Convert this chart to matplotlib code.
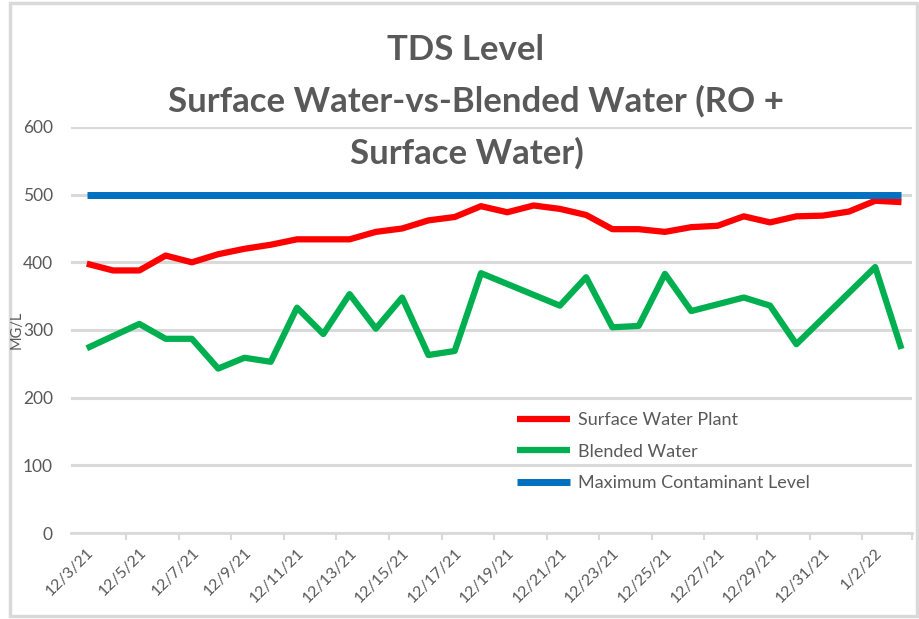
import matplotlib
matplotlib.use("Agg")
import matplotlib.pyplot as plt
import pandas as pd
from matplotlib.patches import Rectangle

plt.rcParams['font.family'] = ['Lato', 'DejaVu Sans']

# ---- data ----
surface_dates = ["2021-12-03", "2021-12-04", "2021-12-05", "2021-12-06", "2021-12-07", "2021-12-08",
                 "2021-12-09", "2021-12-10", "2021-12-11", "2021-12-12", "2021-12-13", "2021-12-14",
                 "2021-12-15", "2021-12-16", "2021-12-17", "2021-12-18", "2021-12-19", "2021-12-20",
                 "2021-12-21", "2021-12-22", "2021-12-23", "2021-12-24", "2021-12-25", "2021-12-26",
                 "2021-12-27", "2021-12-28", "2021-12-29", "2021-12-30", "2021-12-31", "2022-01-01",
                 "2022-01-02", "2022-01-03"]
surface_values = [398, 388, 388, 410, 400, 412, 420, 426, 434, 434, 434, 445, 450, 462, 467, 483,
                  474, 484, 479, 470, 449, 449, 445, 452, 454, 468, 459, 468, 469, 475, 491, 489]

blended_dates = ["2021-12-03", "2021-12-05", "2021-12-06", "2021-12-07", "2021-12-08", "2021-12-09",
                 "2021-12-10", "2021-12-11", "2021-12-12", "2021-12-13", "2021-12-14", "2021-12-15",
                 "2021-12-16", "2021-12-17", "2021-12-18", "2021-12-21", "2021-12-22", "2021-12-23",
                 "2021-12-24", "2021-12-25", "2021-12-26", "2021-12-28", "2021-12-29", "2021-12-30",
                 "2022-01-02", "2022-01-03"]
blended_values = [273, 309, 287, 287, 243, 259, 253, 333, 294, 353, 302, 348, 263, 269, 384, 336,
                  378, 304, 306, 383, 328, 348, 336, 279, 393, 272]

mcl_dates = ["2021-12-03", "2022-01-03"]
mcl_values = [500, 500]

tick_dates = ["2021-12-03", "2021-12-05", "2021-12-07", "2021-12-09", "2021-12-11", "2021-12-13",
              "2021-12-15", "2021-12-17", "2021-12-19", "2021-12-21", "2021-12-23", "2021-12-25",
              "2021-12-27", "2021-12-29", "2021-12-31", "2022-01-02"]
tick_labels = ["12/3/21", "12/5/21", "12/7/21", "12/9/21", "12/11/21", "12/13/21", "12/15/21",
               "12/17/21", "12/19/21", "12/21/21", "12/23/21", "12/25/21", "12/27/21", "12/29/21",
               "12/31/21", "1/2/22"]

title_lines = ["TDS Level", "Surface Water-vs-Blended Water (RO +", "Surface Water)"]

# ---- plot ----
GRAY = "#595959"
GRID = "#d9d9d9"

fig = plt.figure(figsize=(9.2, 6.19), dpi=100)
fig.patches.append(Rectangle((0.011, 0.005), 0.986, 0.99, transform=fig.transFigure,
                             fill=False, edgecolor=GRID, linewidth=2.5))
ax = fig.add_axes([71 / 920, 86 / 619, (912 - 71) / 920, (533 - 127) / 619])

sd = pd.to_datetime(surface_dates)
bd = pd.to_datetime(blended_dates)
md = pd.to_datetime(mcl_dates)
td = pd.to_datetime(tick_dates)

ax.plot(sd, surface_values, color="#ff0000", lw=4.5, solid_capstyle="butt", zorder=3,
        label="Surface Water Plant")
ax.plot(bd, blended_values, color="#00b050", lw=4.5, solid_capstyle="butt", zorder=3,
        label="Blended Water")
ax.plot(md, mcl_values, color="#0070c0", lw=5, solid_capstyle="butt", zorder=3,
        label="Maximum Contaminant Level")

x0 = sd[0] - pd.Timedelta(hours=0.6 * 24)
x1 = sd[-1] + pd.Timedelta(hours=0.4 * 24)
ax.set_xlim(x0, x1)
ax.set_ylim(0, 600)
ax.set_yticks(range(0, 601, 100))
ax.tick_params(axis='y', length=0, labelsize=12.5, labelcolor=GRAY, pad=13)
ax.grid(axis='y', color=GRID, lw=2.2, zorder=0)
ax.set_axisbelow(True)

ax.set_xticks(td)
ax.set_xticklabels(tick_labels, rotation=45, ha='right', va='top', rotation_mode='anchor',
                   fontsize=11.5, color=GRAY)
ax.tick_params(axis='x', length=0, pad=9)
minor = [d + pd.Timedelta(hours=36) for d in td[:-1]] + [x1]
ax.set_xticks(minor, minor=True)
ax.tick_params(axis='x', which='minor', length=5, width=1.5, color=GRID)

for s in ['top', 'right', 'left']:
    ax.spines[s].set_visible(False)
ax.spines['bottom'].set_color(GRID)
ax.spines['bottom'].set_linewidth(2)

fig.text(16.5 / 920, (619 - 330) / 619, "MG/L", rotation=90, ha='center', va='center',
         fontsize=10.5, color=GRAY)

title_y = [50, 101, 153]
title_x = [466, 476, 467]
for txt, tx, ty in zip(title_lines, title_x, title_y):
    fig.text(tx / 920, (619 - ty) / 619, txt, ha='center', va='center', fontsize=25,
             fontweight='bold', color=GRAY)

leg = ax.legend(loc='upper left', bbox_to_anchor=((510 - 71) / 841, (533 - 405) / 406),
                frameon=False, fontsize=13, labelcolor=GRAY, handlelength=2.9,
                handletextpad=0.45, labelspacing=0.85, borderaxespad=0)

fig.savefig("out.png", dpi=100)
